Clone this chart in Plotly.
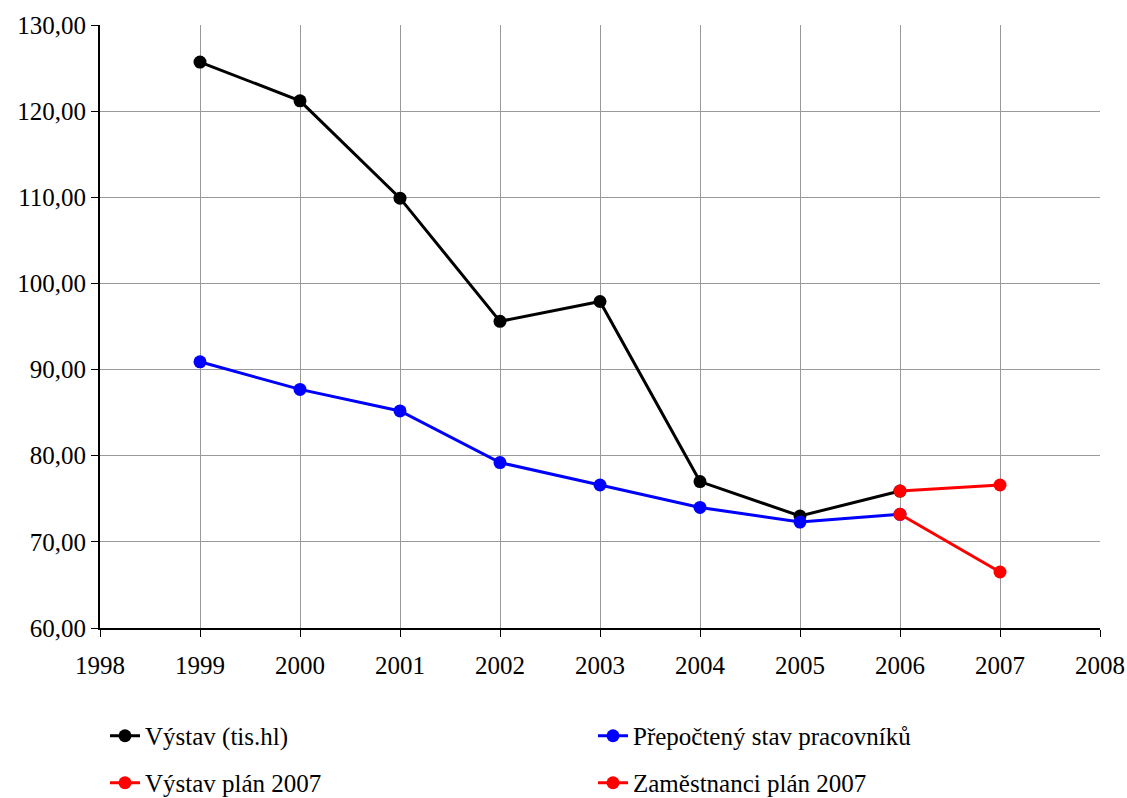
import plotly.graph_objects as go

years_main = [1999, 2000, 2001, 2002, 2003, 2004, 2005, 2006]
vystav = [125.7, 121.2, 109.9, 95.6, 97.9, 77.0, 73.0, 75.9]
pracovnici = [90.9, 87.7, 85.2, 79.2, 76.6, 74.0, 72.3, 73.2]
years_plan = [2006, 2007]
vystav_plan = [75.9, 76.6]
zam_plan = [73.2, 66.5]

font_family = "Liberation Serif, Times New Roman, serif"

fig = go.Figure()
fig.add_trace(go.Scatter(x=years_main, y=vystav, mode="lines+markers", name="Výstav (tis.hl)",
                         line=dict(color="black", width=3), marker=dict(color="black", size=13),
                         legend="legend"))
fig.add_trace(go.Scatter(x=years_main, y=pracovnici, mode="lines+markers", name="Přepočtený stav pracovníků",
                         line=dict(color="blue", width=3), marker=dict(color="blue", size=13),
                         legend="legend"))
fig.add_trace(go.Scatter(x=years_plan, y=vystav_plan, mode="lines+markers", name="Výstav plán 2007",
                         line=dict(color="red", width=3), marker=dict(color="red", size=13),
                         legend="legend2"))
fig.add_trace(go.Scatter(x=years_plan, y=zam_plan, mode="lines+markers", name="Zaměstnanci plán 2007",
                         line=dict(color="red", width=3), marker=dict(color="red", size=13),
                         legend="legend2"))

legend_common = dict(orientation="h", xanchor="left", yanchor="middle", x=0.005,
                     yref="container",
                     entrywidth=443, entrywidthmode="pixels",
                     font=dict(family=font_family, size=25, color="black"),
                     bgcolor="rgba(0,0,0,0)", itemclick=False)

fig.update_layout(
    width=1127, height=798,
    margin=dict(l=100, r=27, t=25, b=170),
    paper_bgcolor="white", plot_bgcolor="white",
    separators=", ",
    font=dict(family=font_family, size=25, color="black"),
    showlegend=True,
    legend=dict(legend_common, y=0.0777),
    legend2=dict(legend_common, y=0.0188),
    xaxis=dict(range=[1998, 2008], dtick=1, tick0=1998, showgrid=True, gridcolor="#999999", gridwidth=1,
               showline=True, linecolor="black", linewidth=2, ticks="outside", ticklen=7,
               tickcolor="black", tickfont=dict(size=25), zeroline=False, automargin=False,
               ticklabelstandoff=7),
    yaxis=dict(range=[60, 130], dtick=10, tickformat=".2f", showgrid=True, gridcolor="#999999", gridwidth=1,
               showline=True, linecolor="black", linewidth=2, ticks="outside", ticklen=7,
               tickcolor="black", tickfont=dict(size=25), zeroline=False, automargin=False),
)

fig.write_html("out.html",
               config={"displayModeBar": False},
               post_script="document.body.style.margin='0';document.body.style.overflow='hidden';")
